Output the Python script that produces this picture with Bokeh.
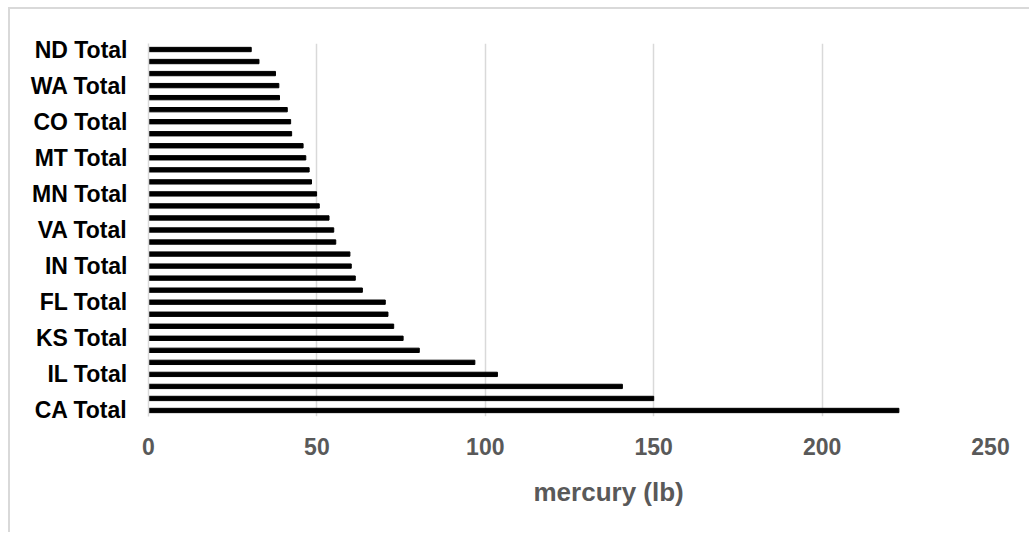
from bokeh.plotting import figure
from bokeh.models import Range1d, FixedTicker, ColumnDataSource, Title
from bokeh.embed import file_html
from bokeh.resources import INLINE

# State totals, listed bottom (largest) to top (smallest)
states = [
    "CA Total", "TX Total", "OH Total", "IL Total", "PA Total", "MI Total",
    "KS Total", "NY Total", "WI Total", "FL Total", "GA Total", "MO Total",
    "IN Total", "NC Total", "TN Total", "VA Total", "AZ Total", "KY Total",
    "MN Total", "IA Total", "OK Total", "MT Total", "NE Total", "LA Total",
    "CO Total", "OR Total", "UT Total", "WA Total", "SD Total", "NM Total",
    "ND Total",
]
mercury_lb = [
    222.8, 150.0, 140.7, 103.6, 96.9, 80.4,
    75.6, 72.8, 71.1, 70.3, 63.5, 61.4,
    60.2, 59.8, 55.6, 55.0, 53.6, 50.7,
    49.9, 48.4, 47.7, 46.7, 45.9, 42.5,
    42.2, 41.2, 38.9, 38.7, 37.7, 32.8,
    30.5,
]
x_ticks = [0, 50, 100, 150, 200, 250]
label_every = 3

FONT = "Liberation Sans"
GRID = "#d9d9d9"
GREY_TEXT = "#595959"

# the chart sits inside a light frame drawn with CSS (top and left edges)
OX, OY = 10, 9
SPARE = 1  # keeps the page from overflowing the window

src = ColumnDataSource(dict(pos=list(range(len(states))), value=mercury_lb, name=states))

p = figure(
    width=1032 - OX - SPARE, height=535 - OY - SPARE,
    output_backend="svg", toolbar_location=None,
    x_range=Range1d(0, 250), y_range=Range1d(-0.5, len(states) - 0.5),
    min_border_left=148 - OX, min_border_right=42 - SPARE, min_border_top=43 - OY,
    min_border_bottom=119 - SPARE,
    background_fill_color="white", border_fill_color="white",
)
p.styles = {
    "margin-left": "8px", "margin-top": "7px",
    "border-left": "2px solid #d9d9d9", "border-top": "2px solid #d9d9d9",
    "border-right": "none", "border-bottom": "none",
}
p.outline_line_color = None

p.hbar(y="pos", left=0, right="value", height=0.36, color="black", source=src)

# x axis: value scale with light vertical gridlines
p.xaxis.ticker = FixedTicker(ticks=x_ticks)
p.xgrid.ticker = FixedTicker(ticks=x_ticks)
p.xgrid.grid_line_color = GRID
p.xgrid.grid_line_width = 1.5
p.xaxis.axis_line_color = None
p.xaxis.major_tick_line_color = None
p.xaxis.minor_tick_line_color = None
p.xaxis.major_tick_out = 0
p.xaxis.major_tick_in = 0
p.xaxis.major_label_standoff = 21
p.xaxis.major_label_text_font = FONT
p.xaxis.major_label_text_font_style = "bold"
p.xaxis.major_label_text_font_size = "23px"
p.xaxis.major_label_text_color = GREY_TEXT

# axis title, placed a little right of centre
p.add_layout(Title(
    text="mercury (lb)", align="left", offset=385, standoff=34,
    text_font=FONT, text_font_style="bold", text_font_size="26px",
    text_color=GREY_TEXT,
), "below")

# y axis: every third state labelled
y_ticks = list(range(0, len(states), label_every))
p.yaxis.ticker = FixedTicker(ticks=y_ticks)
p.yaxis.major_label_overrides = {i: states[i] for i in y_ticks}
p.ygrid.grid_line_color = None
p.yaxis.axis_line_color = GRID
p.yaxis.axis_line_width = 1.5
p.yaxis.major_tick_line_color = None
p.yaxis.minor_tick_line_color = None
p.yaxis.major_tick_out = 0
p.yaxis.major_tick_in = 0
p.yaxis.major_label_standoff = 21
p.yaxis.major_label_text_font = FONT
p.yaxis.major_label_text_font_style = "bold"
p.yaxis.major_label_text_font_size = "23px"
p.yaxis.major_label_text_color = "black"

open("out.html", "w").write(file_html(p, INLINE))
